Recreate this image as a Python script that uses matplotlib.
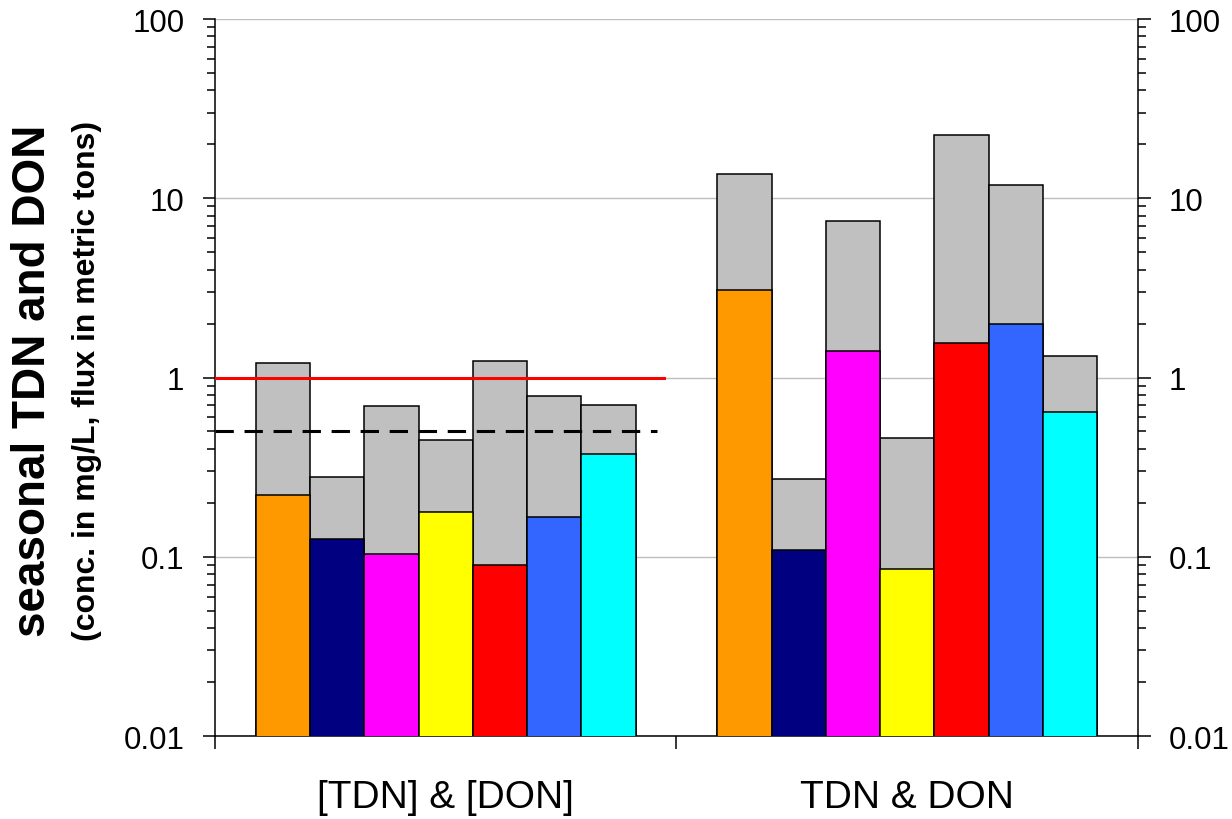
import numpy as np
import matplotlib
matplotlib.use("Agg")
import matplotlib.pyplot as plt

plt.rcParams['font.family'] = ['Liberation Sans', 'DejaVu Sans']

'''
Data
'''
groups = ["[TDN] & [DON]", "TDN & DON"]
colors = ["#FF9900", "#000080", "#FF00FF", "#FFFF00", "#FF0000", "#3366FF", "#00FFFF"]

# TDN (grey, behind) and DON (coloured, in front), one value per season/site
tdn_conc = [1.2, 0.28, 0.69, 0.45, 1.23, 0.79, 0.70]
don_conc = [0.22, 0.126, 0.103, 0.178, 0.09, 0.167, 0.376]
tdn_flux = [13.6, 0.27, 7.45, 0.46, 22.5, 11.8, 1.31]
don_flux = [3.06, 0.109, 1.40, 0.085, 1.55, 1.98, 0.64]

# reference levels drawn over the concentration group
tdn_limit = 1.0
don_limit = 0.5

'''
Plot
'''
fig = plt.figure(figsize=(12.32, 8.2), dpi=100)
ax = fig.add_axes([0.1745, 0.1012, 0.7492, 0.8744])

offset = 0.0888
width = 0.1175
for g, (tdn, don) in enumerate([(tdn_conc, don_conc), (tdn_flux, don_flux)]):
    x = g + offset + (np.arange(len(tdn)) + 0.5) * width
    ax.bar(x, tdn, width=width, color="#C0C0C0", edgecolor="black", linewidth=1.1, zorder=2)
    ax.bar(x, don, width=width, color=colors, edgecolor="black", linewidth=1.1, zorder=3)

ax.plot([0, 0.973], [tdn_limit, tdn_limit], color="#FF0000", linewidth=2.2, zorder=4)
ax.plot([0, 0.958], [don_limit, don_limit], color="black", linewidth=2.2,
        linestyle=(0, (6, 3.5)), zorder=4)

ax.set_yscale("log")
ax.set_ylim(0.01, 100)
ax.set_xlim(0, 2)
ax.set_yticks([0.01, 0.1, 1, 10, 100])
ax.set_yticklabels(["0.01", "0.1", "1", "10", "100"])
ax.yaxis.grid(True, which="major", color="#BEBEBE", linewidth=1.0, zorder=0)
ax.set_axisbelow(True)

# group boundaries as ticks, group names as unticked minor labels
ax.set_xticks([0, 1, 2])
ax.set_xticklabels(["", "", ""])
ax.set_xticks([0.5, 1.5], minor=True)
ax.set_xticklabels(groups, minor=True, fontsize=28)
ax.tick_params(axis="x", which="major", direction="out", length=9, width=1.1)
ax.tick_params(axis="x", which="minor", length=0, pad=31)

ax.tick_params(axis="y", which="both", direction="out", left=True, right=True,
               labelleft=True, labelright=True, labelsize=22.5, width=1.1)
ax.tick_params(axis="y", which="major", length=9, pad=13)
ax.tick_params(axis="y", which="minor", length=6)

ax.spines["top"].set_visible(False)
for s in ["left", "right", "bottom"]:
    ax.spines[s].set_linewidth(1.1)

fig.text(0.027, 0.535, "seasonal TDN and DON", rotation=90, fontsize=33,
         fontweight="bold", ha="center", va="center")
fig.text(0.071, 0.535, "(conc. in mg/L, flux in metric tons)", rotation=90,
         fontsize=23, fontweight="bold", ha="center", va="center")

fig.savefig("out.png", dpi=100)
